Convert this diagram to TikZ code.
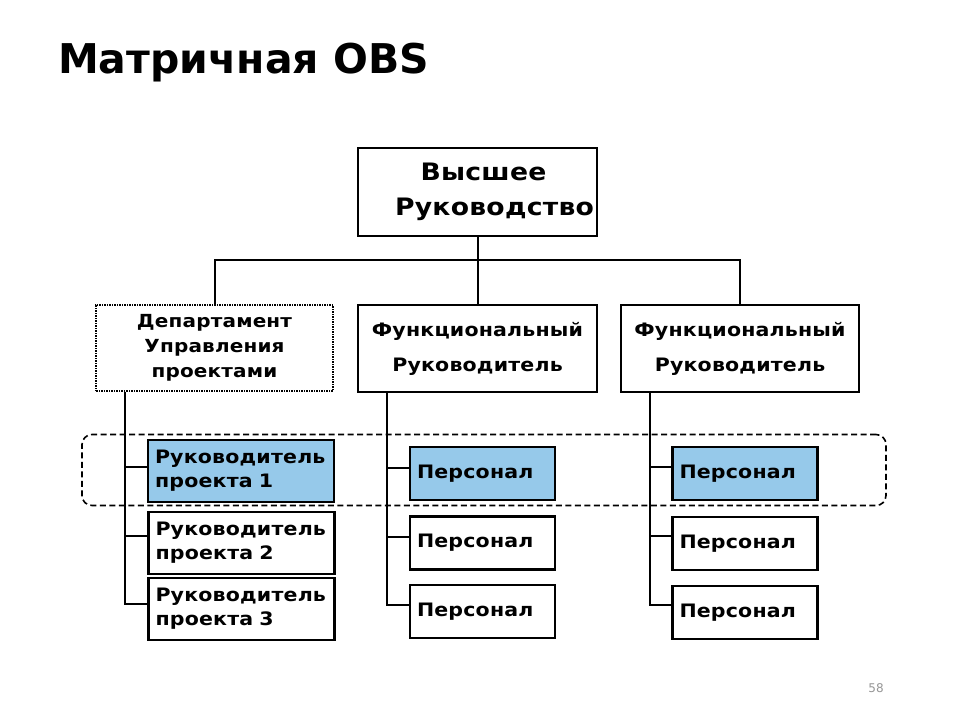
\documentclass[tikz,border=0pt]{standalone}
\usepackage{fontspec}
\setmainfont{DejaVu Sans}
\newfontfamily\boxfont[FakeStretch=1.11,LetterSpace=1]{DejaVu Sans}
\definecolor{selblue}{RGB}{150,201,234}
\definecolor{pggray}{RGB}{150,150,150}
\begin{document}
\begin{tikzpicture}[x=1pt,y=-1pt,
  box/.style={draw=black,line width=2.2pt,fill=white,inner sep=0pt},
  sel/.style={fill=selblue},
  subtxt/.style={font=\boxfont\bfseries\fontsize{18.5}{24}\selectfont,align=left,inner xsep=7pt,inner ysep=0pt},
  pmbox/.style={box,subtxt,text width=172pt,minimum height=62pt},
  perbox/.style={box,subtxt,text width=131pt,minimum height=53pt},
  link/.style={line width=2pt}]
\fill[white] (0,0) rectangle (960,720);
\useasboundingbox (0,0) rectangle (960,720);

\node[anchor=base west,font=\bfseries\fontsize{41}{45}\selectfont,inner sep=0pt] (title) at (58,73) {Матричная OBS};

\node[draw,dash pattern=on 6pt off 3.5pt,rounded corners=10pt,line width=1.6pt,minimum width=804pt,minimum height=71pt] (grp) at (484,470) {};

\node[box,minimum width=239pt,minimum height=88pt,align=center,font=\boxfont\bfseries\fontsize{24}{35}\selectfont] (top) at (477.5,192) {\hspace*{12pt}Высшее\\\hspace*{34pt}Руководство};

\node[box,line width=1.6pt,dash pattern=on 2pt off 1.2pt on 0.6pt off 1.2pt,minimum width=237pt,minimum height=86pt,align=center,font=\boxfont\bfseries\fontsize{18}{25}\selectfont] (dep) at (214.5,348) {Департамент\\Управления\\проектами};

\node[box,minimum width=239pt,minimum height=87pt,align=center,font=\boxfont\bfseries\fontsize{18.5}{35}\selectfont] (fun1) at (477.5,348.5) {Функциональный\\Руководитель};
\node[box,minimum width=238pt,minimum height=87pt,align=center,font=\boxfont\bfseries\fontsize{18.5}{35}\selectfont] (fun2) at (740,348.5) {Функциональный\\Руководитель};

\node[pmbox,sel] (pm1) at (241,471) {Руководитель\\проекта 1};
\node[pmbox] (pm2) at (241.5,543) {Руководитель\\проекта 2};
\node[pmbox] (pm3) at (241.5,609) {Руководитель\\проекта 3};

\node[perbox,sel] (p11) at (482.5,473.5) {Персонал};
\node[perbox] (p12) at (482.5,543) {Персонал};
\node[perbox] (p13) at (482.5,611.5) {Персонал};

\node[perbox,sel] (p21) at (745,473.5) {Персонал};
\node[perbox] (p22) at (745,543.5) {Персонал};
\node[perbox] (p23) at (745,612.5) {Персонал};

\node[font=\fontsize{12}{14}\selectfont,text=pggray] (pg) at (876,688) {58};

% connectors
\draw[link] (top.south) -- coordinate[pos=0.35] (bar) (fun1.north);
\draw[link] (dep.north) |- (bar) -| (fun2.north);

\draw[link] ([xshift=30pt]dep.south west) |- ([yshift=4pt]pm1.west);
\draw[link] ([xshift=30pt]dep.south west) |- ([yshift=7pt]pm2.west);
\draw[link] ([xshift=30pt]dep.south west) |- ([yshift=5pt]pm3.west);

\draw[link] ([xshift=30pt]fun1.south west) |- ([yshift=6pt]p11.west);
\draw[link] ([xshift=30pt]fun1.south west) |- ([yshift=6pt]p12.west);
\draw[link] ([xshift=30pt]fun1.south west) |- ([yshift=7pt]p13.west);

\draw[link] ([xshift=30pt]fun2.south west) |- ([yshift=7pt]p21.west);
\draw[link] ([xshift=30pt]fun2.south west) |- ([yshift=8pt]p22.west);
\draw[link] ([xshift=30pt]fun2.south west) |- ([yshift=8pt]p23.west);
\end{tikzpicture}
\end{document}
